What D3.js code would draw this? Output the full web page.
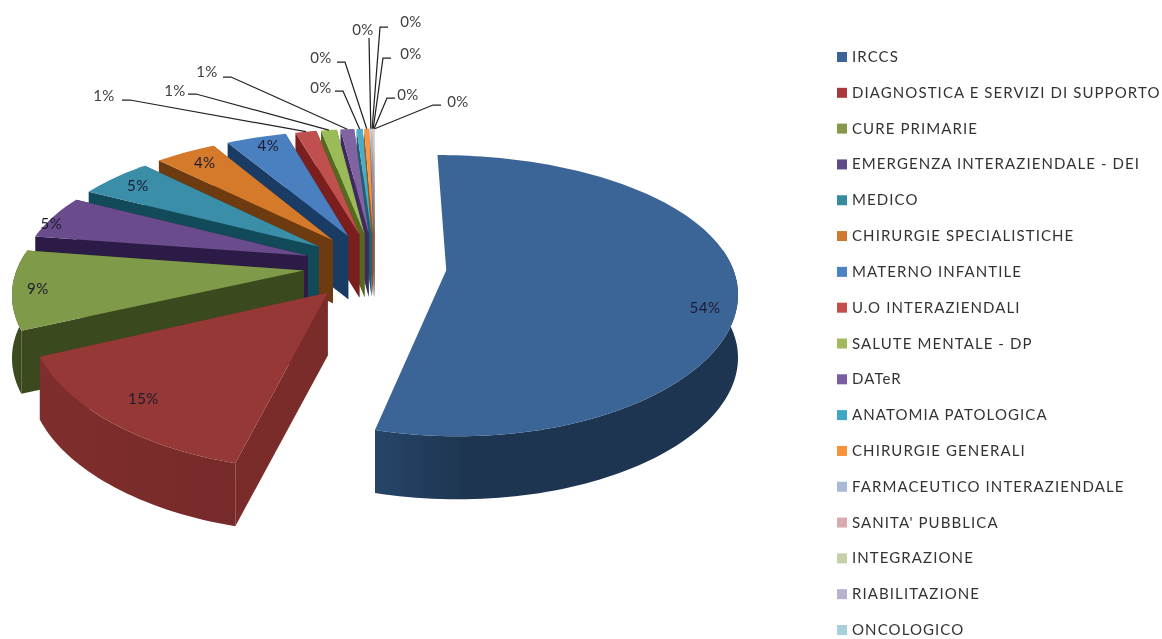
<!DOCTYPE html>
<html>
<head>
<meta charset="utf-8">
<script src="https://cdnjs.cloudflare.com/ajax/libs/d3/7.8.5/d3.min.js"></script>
<style>
html,body{margin:0;padding:0;background:#fff;overflow:hidden}
svg{display:block;filter:blur(0.45px)}
text{font-family:Lato,"Open Sans",sans-serif}
</style>
</head>
<body>
<svg id="c" width="1162" height="639"></svg>
<script>
const categories = ["IRCCS","DIAGNOSTICA E SERVIZI DI SUPPORTO","CURE PRIMARIE","EMERGENZA INTERAZIENDALE - DEI","MEDICO","CHIRURGIE SPECIALISTICHE","MATERNO INFANTILE","U.O INTERAZIENDALI","SALUTE MENTALE - DP","DATeR","ANATOMIA PATOLOGICA","CHIRURGIE GENERALI","FARMACEUTICO INTERAZIENDALE","SANITA' PUBBLICA","INTEGRAZIONE","RIABILITAZIONE","ONCOLOGICO"];
const shares = [54.4,14.4,9.2,5.3,5.0,4.1,4.0,1.4,1.05,0.9,0.4,0.35,0.08,0.06,0.05,0.04,0.03];
const labels = ["54%","15%","9%","5%","5%","4%","4%","1%","1%","1%","0%","0%","0%","0%","0%","0%","0%"];
const topColors = ["#3b6597","#953836","#7f9a48","#6a4c8c","#3a8ea8","#d47a2a","#4a7fc0","#c0504d","#9bbb59","#8064a2","#4bacc6","#f79646","#a9b8d8","#d8a8a8","#c4d0a8","#b8b0cc","#a8d0dc"];
const wallColors = ["#1d3550","#7a2c2b","#3a4a1e","#2d1b47","#134a59","#6e3a10","#1a3c64","#7b1f1e","#55691f","#3f2a60","#1f5f70","#9a5310","#5c6a8a","#8a5c5c","#7a8560","#6a6480","#5c8794"];
const legendColors = ["#3b6398","#a8383a","#86994a","#5d4a86","#358ba0","#d0782f","#4a84c4","#c44e4b","#a3b95f","#7a5ea3","#3fa6c4","#f7923a","#a9b8d6","#d9a8b0","#c4d0a8","#b8b0cc","#a8d0dc"];
// manual placement of labels, as the chart's author dragged them
const insideNudge = [[-3,22],[10,-8],[-4,2],[-26,3],[4,2],[6,3],[4,0]];
const leaderLayout = {7:[104,96,122,100],8:[175,91,188,94],9:[207,72,223,77],10:[321,88,335,91],11:[321,58,337,62],12:[363,30,369,38],13:[411,22,388,27],14:[411,54,391,58],15:[408,95,395,98],16:[458,102,441,105]};

const cx=375, cy=266, R=286, A=134.5, kY=0.18, kX=0.14, explode=0.25, depth=63;
const project=(u,v)=>[cx+R*u/(1-kX*v), cy+A*v/(1-kY*v)];
const pies=d3.pie().sort(null).value(d=>d).startAngle(0).endAngle(2*Math.PI)(shares);
const svg=d3.select("#c");
const defs=svg.append("defs");
const line=d3.line();
const grid=d=>d3.range(0,1.0001,1/Math.max(4,Math.ceil((d.endAngle-d.startAngle)*40)));

const slices=pies.map((d,i)=>{
  const mid=(d.startAngle+d.endAngle)/2;
  const ox=explode*Math.sin(mid), oy=-explode*Math.cos(mid);
  const pt=(a,r)=>project(ox+r*Math.sin(a), oy-r*Math.cos(a));
  const angles=grid(d).map(t=>d.startAngle+t*(d.endAngle-d.startAngle));
  const arc=angles.map(a=>pt(a,1));
  const frontArc=angles.filter(a=>Math.cos(a)<0.15).map(a=>pt(a,1));
  return {i,d,mid,pt,arc,frontArc,apex:pt(0,0)};
});
const down=p=>[p[0],p[1]+depth];

const order=[0].concat(d3.range(16,0,-1));
const g=svg.append("g");
order.forEach(i=>{
  const s=slices[i], sg=g.append("g");
  const first=s.arc[0], last=s.arc[s.arc.length-1];
  if(i>0)[[s.apex,first],[s.apex,last]].forEach(e=>{
    sg.append("path").attr("d",line([e[0],e[1],down(e[1]),down(e[0])])+"Z").attr("fill",wallColors[i]);
  });
  if(s.frontArc.length>1){
    const xs=d3.extent(s.frontArc,p=>p[0]);
    const base=d3.color(wallColors[i]);
    const gid="w"+i;
    const lg=defs.append("linearGradient").attr("id",gid).attr("gradientUnits","userSpaceOnUse")
      .attr("x1",xs[0]).attr("x2",xs[1]).attr("y1",0).attr("y2",0);
    const left=i===0?base.brighter(0.75):base.brighter(0.1), right=i===0?base:base.darker(0.1);
    lg.append("stop").attr("offset",0).attr("stop-color",left);
    lg.append("stop").attr("offset",i===0?0.25:1).attr("stop-color",right);
    sg.append("path").attr("d",line(s.frontArc.concat(s.frontArc.map(down).reverse()))+"Z").attr("fill","url(#"+gid+")");
  }
  sg.append("path").attr("d",line([s.apex].concat(s.arc))+"Z").attr("fill",topColors[i]);
});

// inside labels
slices.slice(0,7).forEach(s=>{
  const p=s.pt(s.mid,0.9), n=insideNudge[s.i];
  svg.append("text").attr("x",p[0]+n[0]).attr("y",p[1]+n[1]+5).attr("text-anchor","middle")
    .attr("font-size",15).attr("letter-spacing",0.5).attr("fill","#1c1c30").text(labels[s.i]);
});
// outside labels with leader lines
slices.slice(7).forEach(s=>{
  const L=leaderLayout[s.i];
  const tip=s.pt(s.mid,1);
  const pts=s.i===12?[[L[2],L[3]],[tip[0],tip[1]]]:[[L[2],L[3]],[L[2]+(L[2]<tip[0]?8:-8),L[3]],[tip[0],tip[1]]];
  svg.append("path").attr("d",line(pts)).attr("fill","none").attr("stroke","#222").attr("stroke-width",1.25);
  svg.append("text").attr("x",L[0]).attr("y",L[1]+5).attr("text-anchor","middle")
    .attr("font-size",15).attr("letter-spacing",0.5).attr("fill","#404040").text(labels[s.i]);
});

// legend
const y=d3.scalePoint().domain(categories).range([57,630]);
const lg=svg.append("g");
categories.forEach((c,i)=>{
  lg.append("rect").attr("x",837).attr("y",y(c)-5).attr("width",10).attr("height",10).attr("fill",legendColors[i]);
  lg.append("text").attr("x",852).attr("y",y(c)+5).attr("font-size",15).attr("letter-spacing",1.09)
    .attr("fill","#333").text(c);
});
</script>
</body>
</html>
